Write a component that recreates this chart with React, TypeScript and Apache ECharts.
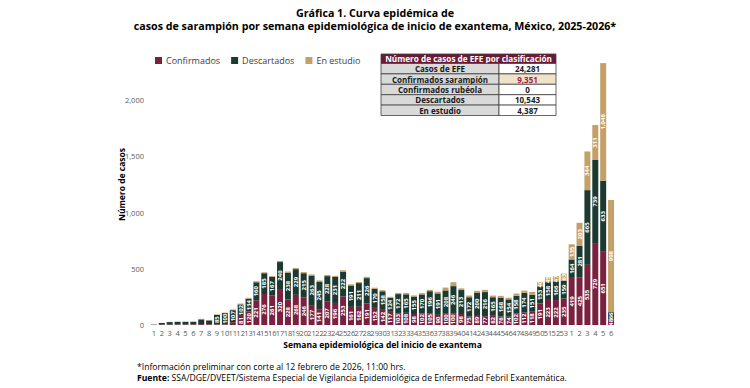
import React, { useEffect, useRef } from 'react';
import * as echarts from 'echarts';

const weeks = [
  '1','2','3','4','5','6','7','8','9','10','11','12','13','14','15','16','17','18','19','20',
  '21','22','23','24','25','26','27','28','29','30','31','32','33','34','35','36','37','38','39','40',
  '41','42','43','44','45','46','47','48','49','50','51','52','53',
  '1','2','3','4','5','6',
];

const confirmados = [
  1, 3, 4, 4, 5, 5, 8, 6, 5, 6, 25, 81, 120, 221, 276, 261, 320, 228, 268, 246,
  177, 141, 207, 196, 253, 161, 162, 191, 152, 142, 117, 103, 108, 98, 102, 105, 90, 100, 100, 98,
  75, 89, 77, 82, 76, 74, 102, 112, 118, 191, 223, 222, 235,
  419, 425, 535, 729, 651, 48,
];

const descartados = [
  3, 15, 22, 24, 23, 23, 42, 35, 85, 100, 107, 102, 114, 160, 185, 167, 240, 238, 229, 215,
  263, 245, 228, 231, 222, 191, 211, 226, 170, 158, 124, 172, 165, 155, 170, 196, 191, 208, 246, 213,
  172, 200, 216, 165, 168, 154, 158, 174, 151, 153, 158, 166, 159,
  164, 281, 665, 739, 633, 66,
];

const enEstudio = [
  0, 1, 2, 2, 2, 3, 5, 4, 4, 4, 6, 8, 8, 8, 8, 8, 10, 10, 10, 10,
  10, 10, 10, 10, 12, 10, 10, 12, 10, 10, 10, 10, 12, 10, 12, 12, 15, 25, 35, 15,
  15, 15, 20, 15, 15, 15, 20, 20, 25, 40, 45, 47, 63,
  135, 203, 344, 311, 1046, 998,
];

const tableHeader = 'Número de casos de EFE por clasificación';
const tableLabels = ['Casos de EFE', 'Confirmados sarampión', 'Confirmados rubéola', 'Descartados', 'En estudio'];
const tableValues = ['24,281', '9,351', '0', '10,543', '4,387'];

const FONT = '"Open Sans", "Noto Sans", sans-serif';
const C_CONF = '#7a2140';
const C_DESC = '#1c3a31';
const C_EST = '#c4a068';

function buildTable() {
  const x0 = 381, x1 = 499, x2 = 556;
  const yH = 54, hH = 9.5, rh = 10.4;
  const els: any[] = [];
  els.push({ type: 'rect', shape: { x: x0, y: yH, width: x2 - x0, height: hH }, style: { fill: '#6b1a35', stroke: '#404040', lineWidth: 0.8 } });
  els.push({ type: 'text', x: (x0 + x2) / 2, y: yH + hH / 2, style: { text: tableHeader, fill: '#ffffff', font: `bold 8.2px ${FONT}`, align: 'center', verticalAlign: 'middle' } });
  tableLabels.forEach((lab, i) => {
    const y = yH + hH + i * rh;
    els.push({ type: 'rect', shape: { x: x0, y, width: x1 - x0, height: rh }, style: { fill: '#d9d9d9', stroke: '#404040', lineWidth: 0.8 } });
    els.push({ type: 'rect', shape: { x: x1, y, width: x2 - x1, height: rh }, style: { fill: i === 1 ? '#efe2c9' : '#ffffff', stroke: '#404040', lineWidth: 0.8 } });
    els.push({ type: 'text', x: (x0 + x1) / 2, y: y + rh / 2, style: { text: lab, fill: '#1a1a1a', font: `bold 8px ${FONT}`, align: 'center', verticalAlign: 'middle' } });
    els.push({ type: 'text', x: (x1 + x2) / 2, y: y + rh / 2, style: { text: tableValues[i], fill: i === 1 ? '#a0223f' : '#1a1a1a', font: `bold 8px ${FONT}`, align: 'center', verticalAlign: 'middle' } });
  });
  return els;
}

const fmt = (v: number) => v.toLocaleString('en-US');

export default function App() {
  const ref = useRef<HTMLDivElement>(null);
  useEffect(() => {
    if (!ref.current) return;
    const chart = echarts.init(ref.current, null, { renderer: 'svg' });
    const labelCfg = (threshold: number) => ({
      show: true,
      position: 'inside',
      rotate: 90,
      color: '#ffffff',
      fontSize: 6,
      fontWeight: 'bold',
      fontFamily: FONT,
      formatter: (p: any) => (p.value >= threshold ? fmt(p.value) : ''),
    });
    chart.setOption({
      animation: false,
      textStyle: { fontFamily: FONT },
      title: {
        text: 'Gráfica 1. Curva epidémica de\ncasos de sarampión por semana epidemiológica de inicio de exantema, México, 2025-2026*',
        left: 'center',
        top: 1,
        textStyle: { fontSize: 10.7, fontWeight: 'bold', color: '#000000', lineHeight: 13.5, fontFamily: FONT },
      },
      legend: {
        left: 150,
        top: 51,
        itemWidth: 7,
        itemHeight: 7,
        itemGap: 11,
        icon: 'rect',
        textStyle: { fontSize: 9, color: '#404040', fontFamily: FONT, padding: [0, 0, 0, -1] },
        data: ['Confirmados', 'Descartados', 'En estudio'],
      },
      grid: { left: 150, right: 135, top: 44, bottom: 63 },
      xAxis: {
        type: 'category',
        data: weeks,
        axisLine: { show: false },
        axisTick: { show: false },
        axisLabel: { interval: 0, fontSize: 7.5, color: '#595959', margin: 4, fontFamily: FONT },
        name: 'Semana epidemiológica del inicio de exantema',
        nameLocation: 'middle',
        nameGap: 15,
        nameMoveOverlap: false,
        nameTextStyle: { fontSize: 8.5, fontWeight: 'bold', color: '#000000', fontFamily: FONT },
      },
      yAxis: {
        type: 'value',
        min: 0,
        max: 2500,
        interval: 500,
        splitLine: { show: false },
        axisLine: { show: false },
        axisTick: { show: false },
        axisLabel: { showMaxLabel: false, fontSize: 7.5, color: '#595959', margin: 6, fontFamily: FONT, formatter: (v: number) => fmt(v) },
        name: 'Número de casos',
        nameLocation: 'middle',
        nameGap: 24,
        nameMoveOverlap: false,
        nameTextStyle: { fontSize: 8.5, fontWeight: 'bold', color: '#000000', fontFamily: FONT },
      },
      series: [
        { name: 'Confirmados', type: 'bar', stack: 'a', data: confirmados, barWidth: 6, itemStyle: { color: C_CONF }, label: labelCfg(45) },
        { name: 'Descartados', type: 'bar', stack: 'a', data: descartados, barWidth: 6, itemStyle: { color: C_DESC }, label: labelCfg(45) },
        { name: 'En estudio', type: 'bar', stack: 'a', data: enEstudio, barWidth: 6, itemStyle: { color: C_EST }, label: labelCfg(38) },
      ],
      graphic: [
        ...buildTable(),
        {
          type: 'text', left: 137, top: 361,
          style: {
            text: '*Información preliminar con corte al 12 febrero de 2026, 11:00 hrs.\n{b|Fuente:} SSA/DGE/DVEET/Sistema Especial de Vigilancia Epidemiológica de Enfermedad Febril Exantemática.',
            fill: '#000000', font: `8.6px ${FONT}`, lineHeight: 11.3,
            rich: { b: { fontWeight: 'bold', fontSize: 8.6, fontFamily: FONT, fill: '#000000', lineHeight: 11.3 } },
          },
        },
      ],
    });
    return () => chart.dispose();
  }, []);
  return <div ref={ref} style={{ position: 'absolute', left: 0, top: 0, width: 750, height: 388, background: '#ffffff' }} />;
}
